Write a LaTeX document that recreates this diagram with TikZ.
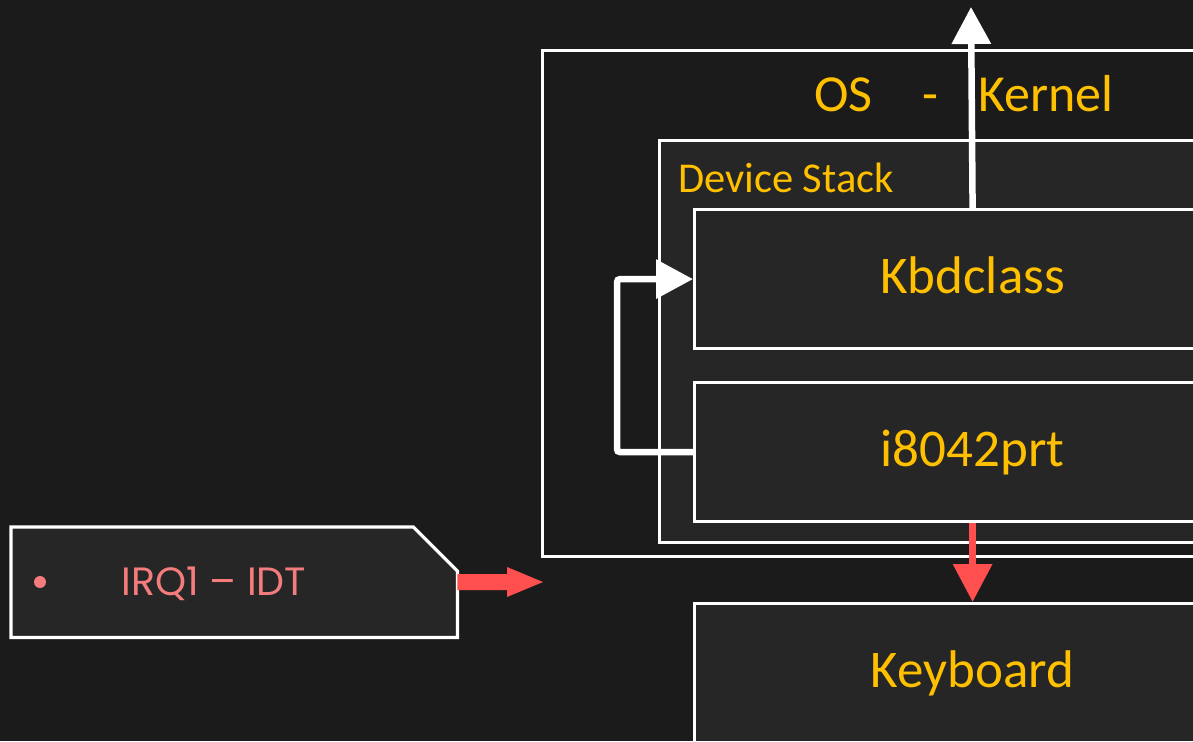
\documentclass[tikz,border=0pt]{standalone}
\usepackage{fontspec}
\setmainfont{Carlito}
\newfontfamily\irqfont{Poppins}
\usetikzlibrary{arrows.meta}
\definecolor{bgdark}{HTML}{1B1B1B}
\definecolor{panel}{HTML}{262626}
\definecolor{gold}{HTML}{FFC000}
\definecolor{alertred}{HTML}{FF4F4F}
\definecolor{salmon}{HTML}{F47C7C}

\begin{document}
\begin{tikzpicture}[x=1pt,y=-1pt,
  frame/.style={draw=white, line width=3.2pt, anchor=north west, inner sep=0pt},
  layerbox/.style={frame, fill=panel, text=gold,
    font=\fontsize{53}{60}\selectfont, text height=29pt, text depth=0pt},
  titletext/.style={anchor=base west, inner sep=0pt, text=gold},
  wire/.style={draw=white, line width=6.5pt},
  whitehead/.style={-{Triangle[length=37pt,width=38pt]}},
  redwire/.style={draw=alertred, line width=6.5pt, -{Triangle[length=38pt,width=38pt]}}
]
\useasboundingbox (0,0) rectangle (1193,741);
\fill[bgdark] (0,0) rectangle (1193,741);
\clip (0,0) rectangle (1193,741);

% kernel frame and device stack
\node[frame, fill=bgdark, minimum width=720pt, minimum height=506pt] (os) at (541,49) {};
\node[titletext, font=\fontsize{52}{60}\selectfont] (ostitle) at (814,112)
  {OS\hspace{50pt}-\hspace{40pt}Kernel};
\node[frame, fill=panel, minimum width=600pt, minimum height=402pt] (stack) at (658,139) {};
\node[titletext, font=\fontsize{42.5}{48}\selectfont] (stacktitle) at (678,192) {Device Stack};

% drivers and hardware
\node[layerbox, minimum width=556pt, minimum height=139pt] (kbd) at (693,208) {Kbdclass};
\node[layerbox, minimum width=556pt, minimum height=139pt] (port) at (693,381) {i8042prt};
\node[layerbox, minimum width=556pt, minimum height=139pt] (keyboard) at (693,602) {Keyboard};

% interrupt entry with cut corner
\node[anchor=north west, inner sep=0pt, minimum width=446pt, minimum height=110pt] (irq) at (11,527) {};
\draw[draw=white, line width=3.2pt, fill=panel, line join=miter]
  (irq.south west) -- (irq.north west) -- ([xshift=-44pt]irq.north east)
  -- ([yshift=-44pt]irq.north east) -- (irq.south east) -- cycle;
\node[circle, fill=salmon, minimum size=12pt, inner sep=0pt] (bullet) at (40,582) {};
\node[anchor=base, inner sep=0pt, text=salmon, font=\irqfont\fontsize{39.5}{44}\selectfont]
  (irqtext) at (214,595) {IRQ1 – IDT};

% connectors
\coordinate (uptip) at (971,7);
\coordinate (irqtip) at (543,582);
\draw[wire, whitehead] (kbd.north) -- (uptip);
\draw[wire, whitehead, rounded corners=3pt] (port.west) -- ++(-76,0) |- (kbd.west);
\draw[redwire] (port.south) -- (keyboard.north);
\fill[alertred] ([yshift=8pt]irq.east) -- ([yshift=8pt,xshift=-36pt]irqtip)
  -- ([yshift=15pt,xshift=-36pt]irqtip) -- (irqtip)
  -- ([yshift=-15pt,xshift=-36pt]irqtip) -- ([yshift=-8pt,xshift=-36pt]irqtip)
  -- ([yshift=-8pt]irq.east) -- cycle;
\end{tikzpicture}
\end{document}
